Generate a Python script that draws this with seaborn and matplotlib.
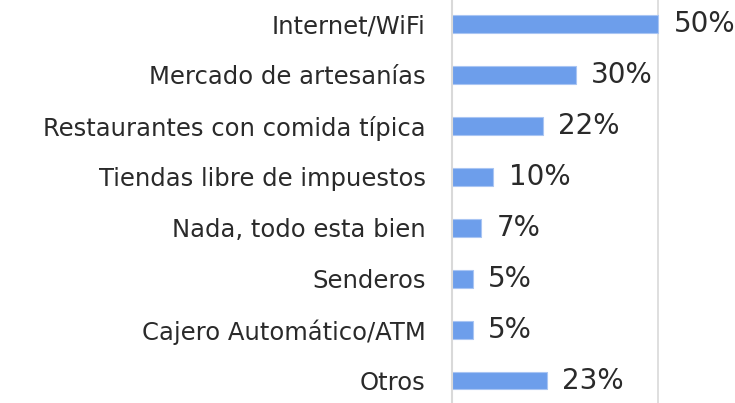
import matplotlib
matplotlib.use('Agg')
import matplotlib.pyplot as plt
import seaborn as sns
import pandas as pd

categorias = ['Internet/WiFi', 'Mercado de artesanías', 'Restaurantes con comida típica',
              'Tiendas libre de impuestos', 'Nada, todo esta bien', 'Senderos',
              'Cajero Automático/ATM', 'Otros']
porcentajes = [50, 30, 22, 10, 7, 5, 5, 23]

df = pd.DataFrame({'cat': categorias, 'pct': porcentajes})

sns.set_theme(style='white')
plt.rcParams['font.family'] = ['DejaVu Sans']

fig = plt.figure(figsize=(7.35, 4.03), dpi=100)
ax = fig.add_axes([452 / 735, 0, (735 - 452) / 735, 1])

sns.barplot(data=df, x='pct', y='cat', orient='h', color='#6d9eeb', width=0.35,
            saturation=1, edgecolor='#a9c5f3', linewidth=0.8, ax=ax)

ax.set_xlim(0, 68.7)
ax.set_ylim(7.44, -0.47)
ax.set_xticks([50])
ax.xaxis.grid(True, color='#d9d9d9', linewidth=1.2)
ax.set_axisbelow(True)
for s in ['top', 'right', 'bottom']:
    ax.spines[s].set_visible(False)
ax.spines['left'].set_color('#d9d9d9')
ax.spines['left'].set_linewidth(1.5)
ax.tick_params(axis='x', length=0, labelbottom=False)
ax.tick_params(axis='y', length=0, pad=19)
ax.set_xlabel('')
ax.set_ylabel('')
for lab in ax.get_yticklabels():
    lab.set_fontsize(17.5)
    lab.set_color('#2a2a2a')

for i, v in enumerate(porcentajes):
    ax.text(v + 3.8, i, f'{v}%', va='center', ha='left', fontsize=20, color='#2a2a2a')

fig.savefig('out.png', dpi=100)
